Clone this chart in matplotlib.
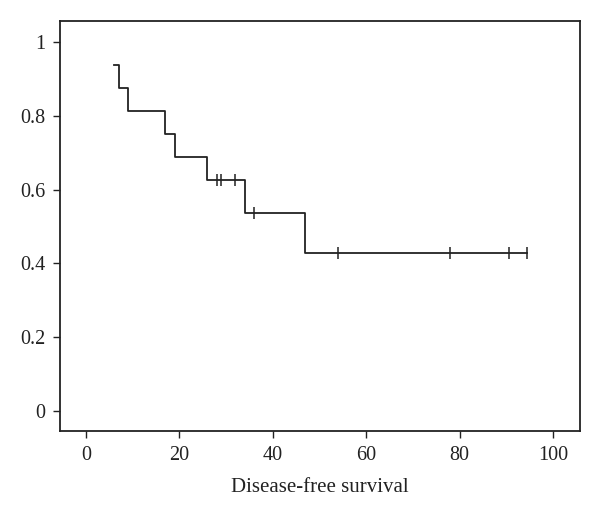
import numpy as np
import matplotlib
matplotlib.use("Agg")
import matplotlib.pyplot as plt

# Kaplan-Meier steps
event_times = [6, 7, 9, 17, 19, 26, 34, 47]
surv_after = [0.9375, 0.875, 0.8125, 0.75, 0.6875, 0.625, 0.5357, 0.4286]
end_time = 94.5

# censored observations (time, survival level)
cens_times = [28, 29, 32, 36, 54, 78, 90.5, 94.5]
cens_surv = [0.625, 0.625, 0.625, 0.5357, 0.4286, 0.4286, 0.4286, 0.4286]

xticks = [0, 20, 40, 60, 80, 100]
yticks = [0, 0.2, 0.4, 0.6, 0.8, 1]
ytick_labels = ["0", "0.2", "0.4", "0.6", "0.8", "1"]

plt.rcParams['font.family'] = ['Liberation Serif', 'DejaVu Serif']

fig = plt.figure(figsize=(6, 5.19), dpi=100)
ax = fig.add_axes([0.1005, 0.1696, 0.8662, 0.7904])

xs = event_times + [end_time]
ys = surv_after + [surv_after[-1]]
ax.step(xs, ys, where='post', color='#222222', lw=1.3)
ax.plot(cens_times, cens_surv, ls='none', marker='|', ms=8, mew=1.1, color='#222222')

ax.set_xlim(-5.5, 105.8)
ax.set_ylim(-0.054, 1.058)
ax.set_xticks(xticks)
ax.set_yticks(yticks)
ax.set_yticklabels(ytick_labels)
ax.tick_params(labelsize=14.5, length=5, width=1, color='#222222', labelcolor='#222222')
ax.tick_params(axis='x', pad=6)
ax.tick_params(axis='y', pad=6)
for s in ax.spines.values():
    s.set_linewidth(1.3)
    s.set_color('#222222')
ax.set_xlabel('Disease-free survival', fontsize=15, color='#222222', labelpad=9)

fig.savefig('out.png', dpi=100)
